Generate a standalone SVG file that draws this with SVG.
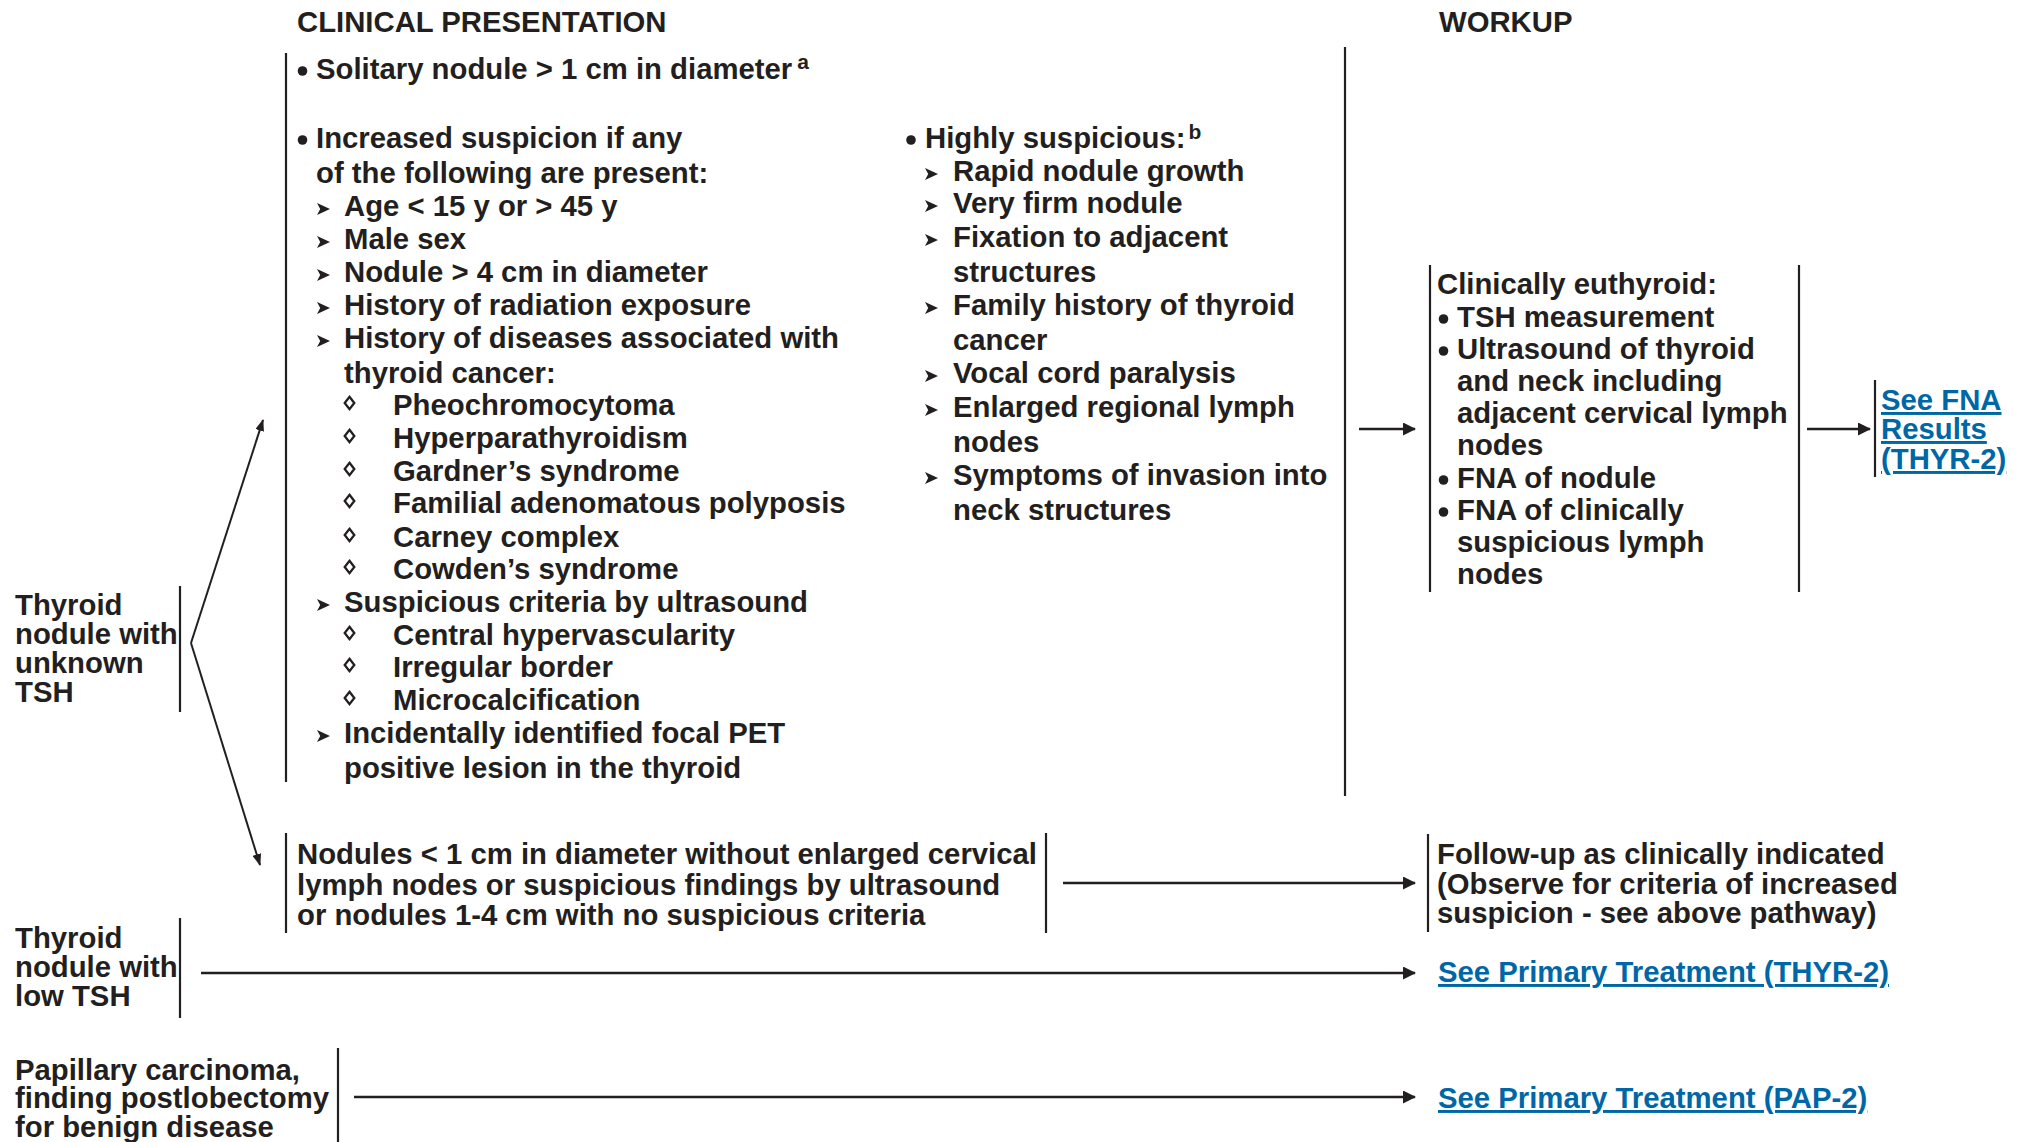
<svg xmlns="http://www.w3.org/2000/svg" xmlns:xlink="http://www.w3.org/1999/xlink" width="2022" height="1142" viewBox="0 0 2022 1142">
  <style>
    .t { font-family: "Liberation Sans", Arial, Helvetica, sans-serif; font-weight: bold; font-size: 29.3px; fill: #231f20; }
    .lk { fill: #0067a6; text-decoration: underline; }
    .sup { font-size: 21px; }
    .bar { stroke: #231f20; stroke-width: 2.2; fill: none; }
    .conn { stroke: #231f20; stroke-width: 2.5; fill: none; marker-end: url(#head); }
    .fork { stroke: #231f20; stroke-width: 2; fill: none; marker-end: url(#headSmall); }
    .dot { fill: #231f20; }
    .tri { fill: #231f20; }
    .dia { fill: none; stroke: #231f20; stroke-width: 2.3; }
  </style>
  <defs>
    <marker id="head" viewBox="0 0 13 13" refX="12" refY="6.5" markerWidth="13" markerHeight="13" markerUnits="userSpaceOnUse" orient="auto">
      <path d="M0,0 L13,6.5 L0,13 Z" fill="#231f20"/>
    </marker>
    <marker id="headSmall" viewBox="0 0 12 9" refX="11" refY="4.5" markerWidth="12" markerHeight="9" markerUnits="userSpaceOnUse" orient="auto">
      <path d="M0,0 L12,4.5 L0,9 Z" fill="#231f20"/>
    </marker>
    <!-- list bullet shapes -->
    <circle id="bul" r="4.8" class="dot"/>
    <path id="arr" class="tri" d="M0,-6 L13,0 L0,6 L3.2,0 Z"/>
    <path id="dmd" class="dia" d="M0,-6.2 L4.8,0 L0,6.2 L-4.8,0 Z"/>
  </defs>

  <rect width="2022" height="1142" fill="#ffffff"/>

  <!-- column headings -->
  <g id="headings">
    <text class="t" x="297" y="32">CLINICAL PRESENTATION</text>
    <text class="t" x="1439" y="32">WORKUP</text>
  </g>

  <!-- entry: thyroid nodule with unknown TSH -->
  <g id="unknown-tsh">
    <line class="bar" x1="180" y1="586" x2="180" y2="712"/>
    <text class="t" x="15" y="615">Thyroid</text>
    <text class="t" x="15" y="644">nodule with</text>
    <text class="t" x="15" y="673">unknown</text>
    <text class="t" x="15" y="702">TSH</text>
  </g>

  <!-- clinical presentation: suspicion criteria -->
  <g id="presentation">
    <line class="bar" x1="286" y1="53" x2="286" y2="782"/>
    <use xlink:href="#bul" x="302.5" y="71"/>
    <text class="t" x="316" y="79">Solitary nodule &gt; 1 cm in diameter<tspan class="sup" dx="5" dy="-10">a</tspan></text>

    <use xlink:href="#bul" x="302.5" y="140"/>
    <text class="t" x="316" y="148">Increased suspicion if any</text>
    <text class="t" x="316" y="183">of the following are present:</text>

    <use xlink:href="#arr" x="317" y="209"/>
    <text class="t" x="344" y="216">Age &lt; 15 y or &gt; 45 y</text>
    <use xlink:href="#arr" x="317" y="242"/>
    <text class="t" x="344" y="249">Male sex</text>
    <use xlink:href="#arr" x="317" y="275"/>
    <text class="t" x="344" y="282">Nodule &gt; 4 cm in diameter</text>
    <use xlink:href="#arr" x="317" y="308"/>
    <text class="t" x="344" y="315">History of radiation exposure</text>
    <use xlink:href="#arr" x="317" y="341"/>
    <text class="t" x="344" y="348">History of diseases associated with</text>
    <text class="t" x="344" y="383">thyroid cancer:</text>

    <use xlink:href="#dmd" x="349.5" y="403"/>
    <text class="t" x="393" y="415">Pheochromocytoma</text>
    <use xlink:href="#dmd" x="349.5" y="436"/>
    <text class="t" x="393" y="448">Hyperparathyroidism</text>
    <use xlink:href="#dmd" x="349.5" y="469"/>
    <text class="t" x="393" y="481">Gardner’s syndrome</text>
    <use xlink:href="#dmd" x="349.5" y="501"/>
    <text class="t" x="393" y="513">Familial adenomatous polyposis</text>
    <use xlink:href="#dmd" x="349.5" y="535"/>
    <text class="t" x="393" y="547">Carney complex</text>
    <use xlink:href="#dmd" x="349.5" y="567"/>
    <text class="t" x="393" y="579">Cowden’s syndrome</text>

    <use xlink:href="#arr" x="317" y="605"/>
    <text class="t" x="344" y="612">Suspicious criteria by ultrasound</text>
    <use xlink:href="#dmd" x="349.5" y="633"/>
    <text class="t" x="393" y="645">Central hypervascularity</text>
    <use xlink:href="#dmd" x="349.5" y="665"/>
    <text class="t" x="393" y="677">Irregular border</text>
    <use xlink:href="#dmd" x="349.5" y="698"/>
    <text class="t" x="393" y="710">Microcalcification</text>

    <use xlink:href="#arr" x="317" y="736"/>
    <text class="t" x="344" y="743">Incidentally identified focal PET</text>
    <text class="t" x="344" y="778">positive lesion in the thyroid</text>

    <!-- highly suspicious findings -->
    <use xlink:href="#bul" x="911" y="140"/>
    <text class="t" x="925" y="148">Highly suspicious:<tspan class="sup" dx="3" dy="-9">b</tspan></text>
    <use xlink:href="#arr" x="925" y="174"/>
    <text class="t" x="953" y="181">Rapid nodule growth</text>
    <use xlink:href="#arr" x="925" y="206"/>
    <text class="t" x="953" y="213">Very firm nodule</text>
    <use xlink:href="#arr" x="925" y="240"/>
    <text class="t" x="953" y="247">Fixation to adjacent</text>
    <text class="t" x="953" y="282">structures</text>
    <use xlink:href="#arr" x="925" y="308"/>
    <text class="t" x="953" y="315">Family history of thyroid</text>
    <text class="t" x="953" y="350">cancer</text>
    <use xlink:href="#arr" x="925" y="376"/>
    <text class="t" x="953" y="383">Vocal cord paralysis</text>
    <use xlink:href="#arr" x="925" y="410"/>
    <text class="t" x="953" y="417">Enlarged regional lymph</text>
    <text class="t" x="953" y="452">nodes</text>
    <use xlink:href="#arr" x="925" y="478"/>
    <text class="t" x="953" y="485">Symptoms of invasion into</text>
    <text class="t" x="953" y="520">neck structures</text>

    <line class="bar" x1="1345" y1="47" x2="1345" y2="796"/>
  </g>

  <!-- workup for suspicious nodules -->
  <g id="workup">
    <line class="bar" x1="1430" y1="265" x2="1430" y2="592"/>
    <line class="bar" x1="1799" y1="265" x2="1799" y2="592"/>
    <text class="t" x="1437" y="294">Clinically euthyroid:</text>
    <use xlink:href="#bul" x="1443.5" y="319"/>
    <text class="t" x="1457" y="327">TSH measurement</text>
    <use xlink:href="#bul" x="1443.5" y="351"/>
    <text class="t" x="1457" y="359">Ultrasound of thyroid</text>
    <text class="t" x="1457" y="391">and neck including</text>
    <text class="t" x="1457" y="423">adjacent cervical lymph</text>
    <text class="t" x="1457" y="455">nodes</text>
    <use xlink:href="#bul" x="1443.5" y="480"/>
    <text class="t" x="1457" y="488">FNA of nodule</text>
    <use xlink:href="#bul" x="1443.5" y="512"/>
    <text class="t" x="1457" y="520">FNA of clinically</text>
    <text class="t" x="1457" y="552">suspicious lymph</text>
    <text class="t" x="1457" y="584">nodes</text>
  </g>

  <!-- reference: FNA results -->
  <g id="fna-results">
    <line class="bar" x1="1875" y1="380" x2="1875" y2="477"/>
    <text class="t lk" x="1881" y="410">See FNA</text>
    <text class="t lk" x="1881" y="439">Results</text>
    <text class="t lk" x="1881" y="469">(THYR-2)</text>
  </g>

  <!-- small nodules without suspicious criteria -->
  <g id="small-nodules">
    <line class="bar" x1="286" y1="833" x2="286" y2="933"/>
    <line class="bar" x1="1046" y1="833" x2="1046" y2="933"/>
    <text class="t" x="297" y="864">Nodules &lt; 1 cm in diameter without enlarged cervical</text>
    <text class="t" x="297" y="895">lymph nodes or suspicious findings by ultrasound</text>
    <text class="t" x="297" y="925">or nodules 1-4 cm with no suspicious criteria</text>
  </g>

  <!-- follow-up -->
  <g id="follow-up">
    <line class="bar" x1="1428" y1="834" x2="1428" y2="932"/>
    <text class="t" x="1437" y="864">Follow-up as clinically indicated</text>
    <text class="t" x="1437" y="894">(Observe for criteria of increased</text>
    <text class="t" x="1437" y="923">suspicion - see above pathway)</text>
  </g>

  <!-- entry: thyroid nodule with low TSH -->
  <g id="low-tsh">
    <line class="bar" x1="180" y1="918" x2="180" y2="1018"/>
    <text class="t" x="15" y="948">Thyroid</text>
    <text class="t" x="15" y="977">nodule with</text>
    <text class="t" x="15" y="1006">low TSH</text>
  </g>

  <g id="primary-thyr">
    <text class="t lk" x="1438" y="982">See Primary Treatment (THYR-2)</text>
  </g>

  <!-- entry: papillary carcinoma after lobectomy -->
  <g id="papillary">
    <line class="bar" x1="338" y1="1048" x2="338" y2="1142"/>
    <text class="t" x="15" y="1080">Papillary carcinoma,</text>
    <text class="t" x="15" y="1108">finding postlobectomy</text>
    <text class="t" x="15" y="1137">for benign disease</text>
  </g>

  <g id="primary-pap">
    <text class="t lk" x="1438" y="1108">See Primary Treatment (PAP-2)</text>
  </g>

  <!-- connectors -->
  <g id="connectors">
    <line class="fork" x1="191" y1="643" x2="263" y2="420"/>
    <line class="fork" x1="191" y1="643" x2="260" y2="865"/>
    <line class="conn" x1="1359" y1="429" x2="1415" y2="429"/>
    <line class="conn" x1="1807" y1="429" x2="1870" y2="429"/>
    <line class="conn" x1="1063" y1="883" x2="1415" y2="883"/>
    <line class="conn" x1="201" y1="973" x2="1415" y2="973"/>
    <line class="conn" x1="354" y1="1097" x2="1415" y2="1097"/>
  </g>
</svg>
